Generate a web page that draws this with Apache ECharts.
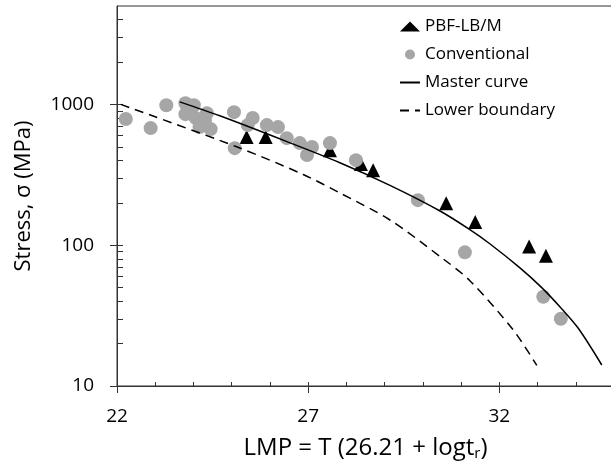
<!DOCTYPE html>
<html>
<head>
<meta charset="utf-8">
<script src="https://cdn.jsdelivr.net/npm/echarts@6/dist/echarts.min.js"></script>
<style>
  html, body { margin: 0; padding: 0; background: #fff; }
  #chart { width: 611px; height: 470px; }
</style>
</head>
<body>
<div id="chart"></div>
<script>
// PBF-LB/M specimens (black triangles)
const pbfLmp = [25.39, 25.89, 27.57, 28.38, 28.70, 30.61, 31.37, 32.78, 33.22];
const pbfStress = [586, 586, 473, 377, 341, 199, 146, 98, 84];

// conventional material (grey circles)
const convLmp = [22.23, 22.88, 23.29, 23.79, 24.01, 23.79, 24.06, 24.35, 24.16, 24.45, 24.30,
  25.06, 25.08, 25.55, 25.42, 25.92, 26.21, 26.44, 26.78, 27.10, 26.97, 27.57, 28.25,
  29.87, 31.10, 33.15, 33.61];
const convStress = [788, 679, 986, 1020, 986, 853, 800, 867, 690, 668, 773,
  881, 489, 800, 713, 713, 690, 576, 531, 498, 437, 531, 402,
  209, 89, 43, 30];

// master curve
const masterLmp = [23.64, 24.69, 26.43, 27.83, 29.14, 30.45, 31.23, 31.76, 32.54, 33.11, 33.59, 34.07, 34.68];
const masterStress = [1043, 830, 546, 385, 266, 175, 129, 102, 69, 50, 36.4, 25.6, 14.1];

// lower boundary
const lowerLmp = [22.1, 25.13, 26.87, 27.83, 29.14, 30.53, 31.23, 32.37, 32.98];
const lowerStress = [1000, 500, 318, 235, 151, 80, 56, 24.9, 14.0];

// ticks
const xTickLabels = [22, 27, 32];
const xMinorTicks = [22, 23, 24, 25, 26, 27, 28, 29, 30, 31, 32, 33, 34];
const yTickLabels = [10, 100, 1000];
const yMinorTicks = [10, 20, 30, 40, 50, 60, 70, 80, 90, 100, 200, 300, 400, 500, 600, 700, 800, 900,
  1000, 2000, 3000, 4000];

const font = 'Open Sans';
const axisColor = '#333';

const zip = (xs, ys) => xs.map((x, i) => [x, ys[i]]);

const chart = echarts.init(document.getElementById('chart'));

// line legend entries: hide the dot echarts puts on line icons
const lineLegendItem = (name) => ({ name, itemStyle: { opacity: 0 } });

chart.setOption({
  animation: false,
  backgroundColor: '#fff',
  textStyle: { fontFamily: font },
  grid: {
    left: 117, top: 6, width: 497, height: 380,
    show: true, borderColor: axisColor, borderWidth: 1,
    containLabel: false, outerBoundsMode: 'none'
  },
  legend: {
    orient: 'vertical',
    left: 394,
    top: 13,
    itemWidth: 20,
    itemHeight: 10,
    itemGap: 11,
    textStyle: { fontFamily: font, fontSize: 17, color: '#000' },
    data: [
      { name: 'PBF-LB/M', icon: 'triangle' },
      { name: 'Conventional', icon: 'circle' },
      lineLegendItem('Master curve'),
      lineLegendItem('Lower boundary')
    ]
  },
  xAxis: [
    {
      type: 'value', position: 'bottom', min: 22, max: 35,
      name: 'LMP = T (26.21 + logt{r|r})',
      nameLocation: 'middle', nameGap: 50, nameMoveOverlap: false,
      nameTextStyle: {
        fontFamily: font, fontSize: 24, color: '#000',
        rich: { r: { fontFamily: font, fontSize: 15, color: '#000', verticalAlign: 'bottom', padding: [10, 0, 0, 0] } }
      },
      axisLine: { show: true, onZero: false, lineStyle: { color: axisColor, width: 1 } },
      axisTick: { show: true, length: 7, customValues: xTickLabels, lineStyle: { color: axisColor } },
      axisLabel: { customValues: xTickLabels, fontFamily: font, fontSize: 19, color: '#000', margin: 21 },
      splitLine: { show: false }
    },
    {
      type: 'value', position: 'bottom', min: 22, max: 35,
      axisLine: { show: false, onZero: false },
      axisTick: { show: true, inside: true, length: 4, customValues: xMinorTicks, lineStyle: { color: axisColor } },
      axisLabel: { show: false },
      splitLine: { show: false }
    }
  ],
  yAxis: [
    {
      type: 'log', logBase: 10, min: 10, max: 5000, position: 'left',
      name: 'Stress, σ (MPa)',
      nameLocation: 'middle', nameGap: 82, nameMoveOverlap: false,
      nameTextStyle: { fontFamily: font, fontSize: 22, color: '#000' },
      axisLine: { show: true, onZero: false, lineStyle: { color: axisColor, width: 1 } },
      axisTick: { show: true, length: 7, customValues: yTickLabels, lineStyle: { color: axisColor } },
      axisLabel: {
        customValues: yTickLabels, fontFamily: font, fontSize: 19, color: '#000', margin: 23,
        formatter: (v) => String(Math.round(v))
      },
      splitLine: { show: false }
    },
    {
      type: 'log', logBase: 10, min: 10, max: 5000, position: 'left',
      axisLine: { show: false, onZero: false },
      axisTick: { show: true, inside: true, length: 6, customValues: yMinorTicks, lineStyle: { color: axisColor } },
      axisLabel: { show: false },
      splitLine: { show: false }
    }
  ],
  series: [
    {
      name: 'PBF-LB/M', type: 'scatter', symbol: 'triangle', symbolSize: 14,
      itemStyle: { color: '#000', opacity: 1 },
      data: zip(pbfLmp, pbfStress)
    },
    {
      name: 'Conventional', type: 'scatter', symbol: 'circle', symbolSize: 14,
      itemStyle: { color: '#a6a6a6', opacity: 1 },
      data: zip(convLmp, convStress)
    },
    {
      name: 'Master curve', type: 'line', symbol: 'none', smooth: 0.3,
      lineStyle: { color: '#000', width: 1.5 },
      itemStyle: { color: '#000' },
      data: zip(masterLmp, masterStress)
    },
    {
      name: 'Lower boundary', type: 'line', symbol: 'none', smooth: 0.3,
      lineStyle: { color: '#000', width: 1.5, type: [9, 6] },
      itemStyle: { color: '#000' },
      data: zip(lowerLmp, lowerStress)
    }
  ]
});
</script>
</body>
</html>
